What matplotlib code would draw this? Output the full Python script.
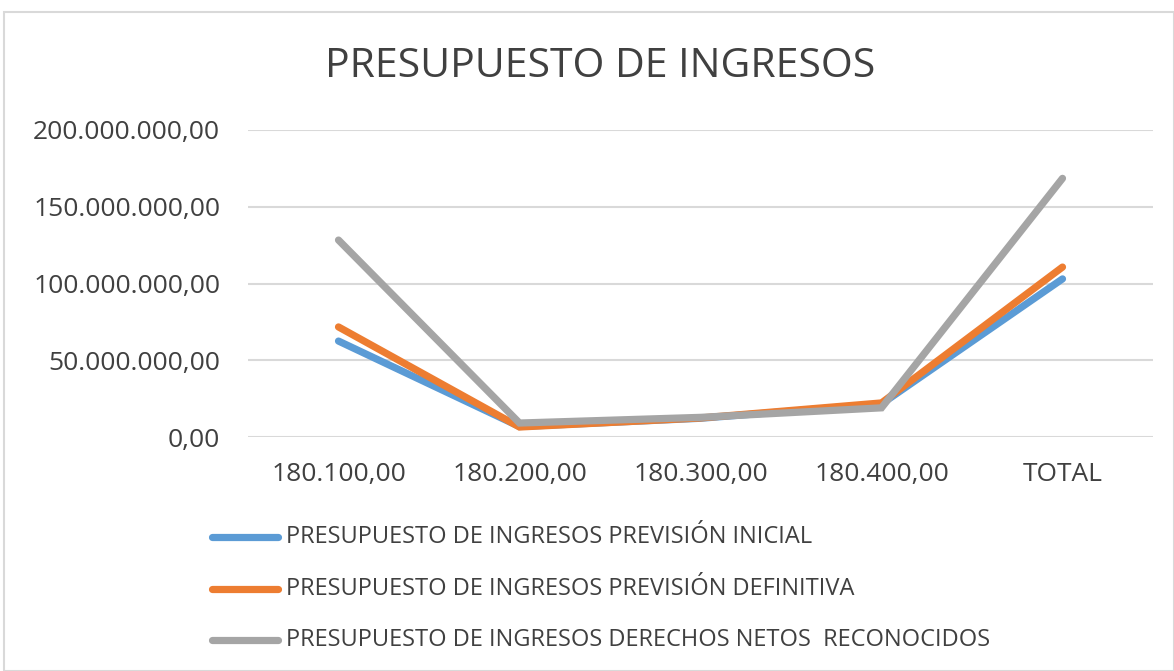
import matplotlib.pyplot as plt
from matplotlib.patches import Rectangle
from matplotlib.lines import Line2D

plt.rcParams['font.family'] = ['Open Sans', 'DejaVu Sans']

# data
categories = ['180.100,00', '180.200,00', '180.300,00', '180.400,00', 'TOTAL']
prevision_inicial = [62.5e6, 6.8e6, 12.2e6, 21.5e6, 103e6]
prevision_definitiva = [71.7e6, 6.5e6, 12.4e6, 22.2e6, 110.7e6]
derechos_netos = [128.3e6, 9.1e6, 12.8e6, 19.0e6, 168.5e6]
series_names = ['PRESUPUESTO DE INGRESOS PREVISIÓN INICIAL',
                'PRESUPUESTO DE INGRESOS PREVISIÓN DEFINITIVA',
                'PRESUPUESTO DE INGRESOS DERECHOS NETOS  RECONOCIDOS']
colors = ['#5B9BD5', '#ED7D31', '#A5A5A5']
yticks = [0, 50e6, 100e6, 150e6, 200e6]

fig = plt.figure(figsize=(11.74, 6.71), dpi=100)
ax = fig.add_axes([248 / 1174, 1 - 437 / 671, 905 / 1174, 307 / 671])

x = range(len(categories))
for vals, c in zip([prevision_inicial, prevision_definitiva, derechos_netos], colors):
    ax.plot(x, vals, color=c, lw=5.2, solid_capstyle='round', solid_joinstyle='miter')

ax.set_xlim(-0.5, len(categories) - 0.5)
ax.set_ylim(0, 200e6)
ax.set_yticks(yticks)
ax.set_yticklabels(['{:,.2f}'.format(v).replace(',', 'X').replace('.', ',').replace('X', '.') for v in yticks])
ax.set_xticks(list(x))
ax.set_xticklabels(categories)
ax.tick_params(axis='both', length=0, labelsize=19, colors='#404040')
ax.tick_params(axis='y', pad=20)
ax.tick_params(axis='x', pad=18)
ax.grid(axis='y', color='#D9D9D9', lw=1.5)
ax.set_axisbelow(True)
for s in ax.spines.values():
    s.set_visible(False)

fig.text(600 / 1174, 1 - 67 / 671, 'PRESUPUESTO DE INGRESOS', ha='center', va='center',
         fontsize=29.5, color='#404040')

# legend drawn by hand, one row per series
rows_y = [537, 589, 640]
for name, c, ry in zip(series_names, colors, rows_y):
    fy = 1 - ry / 671
    fig.add_artist(Line2D([212 / 1174, 278 / 1174], [fy, fy], color=c, lw=5.2,
                          solid_capstyle='round', transform=fig.transFigure))
    fig.text(286 / 1174, fy, name, ha='left', va='center', fontsize=17, color='#404040')

# chart frame
fig.add_artist(Rectangle((4 / 1174, 0), 1 - 4 / 1174, 1 - 12 / 671, fill=False,
                         edgecolor='#D9D9D9', lw=1.5, transform=fig.transFigure))

fig.savefig('out.png', dpi=100)
